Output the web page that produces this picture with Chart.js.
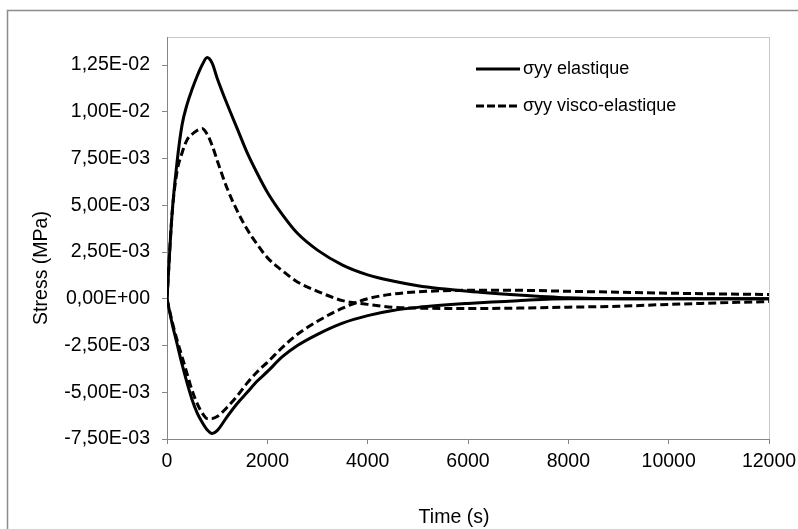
<!DOCTYPE html>
<html>
<head>
<meta charset="utf-8">
<script src="https://cdn.jsdelivr.net/npm/chart.js@4.4.1/dist/chart.umd.min.js"></script>
<style>
	html, body { margin: 0; padding: 0; background: #fff; }
</style>
</head>
<body>
<canvas id="stressChart" width="798" height="529"></canvas>
<script>
// Time (s)
const time = [0, 100, 200, 300, 400, 500, 600, 700, 800, 900, 1000, 1200, 1400, 1600, 1800, 2000, 2300, 2600, 3000, 3500, 4000, 4500, 5000, 6000, 7000, 8000, 9000, 10000, 11000, 12000];

// sigma yy elastique (MPa), upper and lower branch
const elasticUp = [0, 0.0045, 0.0073, 0.0093, 0.0104, 0.0112, 0.0119, 0.0125, 0.0129, 0.0126, 0.0118, 0.0104, 0.0091, 0.0078, 0.0067, 0.0057, 0.0045, 0.0035, 0.0026, 0.0018, 0.00128, 0.00095, 0.0007, 0.0004, 0.0002, 0.00005, 0, 0, 0, 0];
const elasticDown = [0, -0.0013, -0.0024, -0.0035, -0.0045, -0.0054, -0.0061, -0.0066, -0.007, -0.0072, -0.00705, -0.0063, -0.0056, -0.005, -0.0044, -0.0039, -0.0031, -0.0025, -0.0019, -0.0013, -0.0009, -0.00063, -0.00046, -0.00025, -0.0001, 0, 0, 0, 0, 0];

// sigma yy visco-elastique (MPa)
const viscoUp = [0, 0.0045, 0.0068, 0.0078, 0.0085, 0.0088, 0.009, 0.0091, 0.0088, 0.0082, 0.0074, 0.0059, 0.0047, 0.0037, 0.0029, 0.0022, 0.0015, 0.0009, 0.0004, -0.0001, -0.0003, -0.00045, -0.0005, -0.00052, -0.0005, -0.00045, -0.0004, -0.0003, -0.00022, -0.00015];
const viscoDown = [0, -0.0012, -0.0022, -0.0031, -0.004, -0.0049, -0.0056, -0.0061, -0.0064, -0.0064, -0.0063, -0.0058, -0.0052, -0.0045, -0.0039, -0.0034, -0.0026, -0.0019, -0.0012, -0.0005, 0, 0.00025, 0.00037, 0.00045, 0.00045, 0.0004, 0.00035, 0.0003, 0.00026, 0.00023];

const xTickLabels = ["0", "2000", "4000", "6000", "8000", "10000", "12000"];
const yTickValues = [-0.0075, -0.005, -0.0025, 0, 0.0025, 0.005, 0.0075, 0.01, 0.0125];
const yTickLabels = ["-7,50E-03", "-5,00E-03", "-2,50E-03", "0,00E+00", "2,50E-03", "5,00E-03", "7,50E-03", "1,00E-02", "1,25E-02"];

const legendLabels = ["σyy elastique", "σyy visco-elastique"];
const xTitle = "Time (s)";
const yTitle = "Stress (MPa)";

const FONT = '"Liberation Sans", Arial, sans-serif';
const axisGrey = "#868686";

function toPoints(ys) {
	return ys.map((y, i) => ({ x: time[i], y: y }));
}

function series(ys, dashed) {
	return {
		data: toPoints(ys),
		borderColor: "#000",
		borderWidth: 3,
		borderDash: dashed ? [8, 4] : [],
		pointRadius: 0,
		fill: false,
		cubicInterpolationMode: "monotone",
	};
}

// frame, plot border, legend and axis titles (Excel style)
const decorPlugin = {
	id: "decor",
	beforeDraw(chart) {
		const { ctx, chartArea: a } = chart;
		ctx.save();
		ctx.strokeStyle = "#8c8c8c";
		ctx.lineWidth = 1.5;
		ctx.beginPath();
		ctx.moveTo(7.5, 529);
		ctx.lineTo(7.5, 10.5);
		ctx.lineTo(798, 10.5);
		ctx.stroke();
		ctx.strokeStyle = "#c6c6c6";
		ctx.lineWidth = 1;
		ctx.strokeRect(a.left + 0.5, a.top + 0.5, a.right - a.left, a.bottom - a.top);
		ctx.restore();
	},
	afterDraw(chart) {
		const ctx = chart.ctx;
		ctx.save();
		ctx.fillStyle = "#000";
		ctx.strokeStyle = "#000";

		// legend
		ctx.font = "18px " + FONT;
		ctx.textBaseline = "middle";
		ctx.textAlign = "left";
		const rows = [69, 106];
		legendLabels.forEach((txt, i) => {
			ctx.lineWidth = 3;
			ctx.setLineDash(i === 0 ? [] : [8, 3]);
			ctx.beginPath();
			ctx.moveTo(476, rows[i]);
			ctx.lineTo(520, rows[i]);
			ctx.stroke();
			ctx.fillText(txt, 523, rows[i]);
		});
		ctx.setLineDash([]);

		// axis titles
		ctx.font = "19.5px " + FONT;
		ctx.textAlign = "center";
		ctx.fillText(xTitle, 454, 518);
		ctx.translate(42, 268);
		ctx.rotate(-Math.PI / 2);
		ctx.fillText(yTitle, 0, 0);
		ctx.restore();
	},
};

const ctx = document.getElementById("stressChart");

const config = {
	type: "line",
	data: {
		datasets: [
			series(elasticUp, false),
			series(elasticDown, false),
			series(viscoUp, true),
			series(viscoDown, true),
		],
	},
	options: {
		responsive: false,
		animation: false,
		devicePixelRatio: 1,
		layout: { padding: { left: 0, top: 37, right: 29, bottom: 0 } },
		plugins: {
			legend: { display: false },
			tooltip: { enabled: false },
		},
		scales: {
			x: {
				type: "linear",
				min: 0,
				max: 12000,
				afterFit: (scale) => {
					scale.height = 90;
					scale.paddingLeft = 0;
					scale.paddingRight = 0;
				},
				border: { color: axisGrey, width: 1 },
				grid: { drawOnChartArea: false, tickLength: 5, color: axisGrey },
				ticks: {
					stepSize: 2000,
					padding: 6,
					color: "#000",
					font: { family: FONT, size: 19.5 },
					maxRotation: 0,
					callback: (value, i) => xTickLabels[i],
				},
			},
			y: {
				type: "linear",
				min: -0.0075,
				max: 0.014,
				afterFit: (scale) => {
					scale.width = 167;
					scale.paddingTop = 0;
					scale.paddingBottom = 0;
				},
				afterBuildTicks: (scale) => {
					scale.ticks = yTickValues.map((v) => ({ value: v }));
				},
				border: { color: axisGrey, width: 1 },
				grid: { drawOnChartArea: false, tickLength: 5, color: axisGrey },
				ticks: {
					padding: 12,
					color: "#000",
					font: { family: FONT, size: 19.5 },
					callback: (value, i) => yTickLabels[i],
				},
			},
		},
	},
	plugins: [decorPlugin],
};

const chart = new Chart(ctx, config);
</script>
</body>
</html>
